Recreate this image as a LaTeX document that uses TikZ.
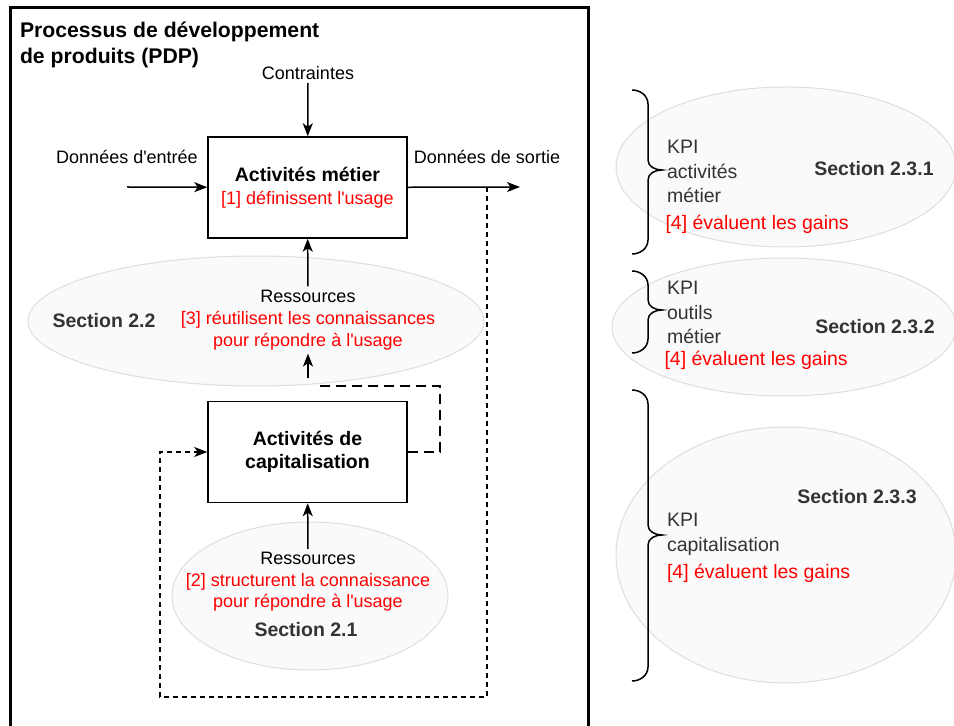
\documentclass[tikz,border=0pt]{standalone}
\usepackage{fontspec}
\setmainfont{Liberation Sans}
\usepackage{tikz}
\usetikzlibrary{arrows.meta,shapes.geometric}

\begin{document}
\begin{tikzpicture}[x=1pt,y=1pt,font=\fontsize{18}{22}\selectfont]

	\tikzstyle{mybox}=[draw,line width=1.5pt,minimum width=199pt,minimum height=101pt,align=center,font=\fontsize{19.5}{23}\selectfont\bfseries]
	\tikzstyle{myell}=[ellipse,draw=black!13,fill=black!2,line width=1pt,inner sep=0pt]
	\tikzstyle{myarrow}=[line width=1.5pt,-{Stealth[length=13pt,width=10pt,inset=3.5pt]}]
	\tikzstyle{fbdash}=[line width=1.5pt,dash pattern=on 5pt off 4pt,-{Stealth[length=13pt,width=10pt,inset=3.5pt]}]
	\tikzstyle{loopdash}=[line width=1.5pt,dash pattern=on 10pt off 6pt]
	\tikzstyle{mysec}=[text=black!80,font=\fontsize{19.5}{23}\selectfont\bfseries]
	\tikzstyle{mykpi}=[text=black!80,align=left,anchor=west,font=\fontsize{19.5}{24.5}\selectfont]
	\tikzstyle{myred}=[red,anchor=west,font=\fontsize{19.5}{24}\selectfont]

	\useasboundingbox (0,0) rectangle (954,726);

	% ellipses
	\node[myell,minimum width=456pt,minimum height=130pt] (e22) at (256,405) {};
	\node[myell,minimum width=276pt,minimum height=148pt] (e21) at (310,130) {};
	\node[myell,minimum width=340pt,minimum height=160pt] (e231) at (786,559) {};
	\node[myell,minimum width=344pt,minimum height=138pt] (e232) at (784,399) {};
	\node[myell,minimum width=340pt,minimum height=256pt] (e233) at (786,171) {};

	% PDP frame
	\draw[line width=3pt] (10,-10) -- (10,718) -- (588,718) -- (588,-10);
	\node[anchor=west,align=left,font=\fontsize{21.2}{26}\selectfont\bfseries] (titre) at (16.5,681) {Processus de développement\\de produits (PDP)};

	% activities
	\node[mybox] (metier) at (307.5,538.5) {Activités métier\\{\color{red}\mdseries\fontsize{18}{23}\selectfont [1] définissent l\textquotesingle usage}};
	\node[mybox] (capi) at (307.5,274) {Activités de\\capitalisation};

	\node (contr) at (308,653) {Contraintes};
	\node (din) at (127,569) {Données d\textquotesingle entrée};
	\node (dout) at (487,569) {Données de sortie};
	\coordinate (inpt) at (127,539);
	\coordinate (outpt) at (520,539);

	\node[align=center] (res22) at (308,406) {Ressources\\\textcolor{red}{[3] réutilisent les connaissances}\\\textcolor{red}{pour répondre à l\textquotesingle usage}};
	\node[align=center,font=\fontsize{18}{21.5}\selectfont] (res21) at (308,144) {Ressources\\\textcolor{red}{[2] structurent la connaissance}\\\textcolor{red}{pour répondre à l\textquotesingle usage}};

	\node[mysec] (s22) at (104,405) {Section 2.2};
	\node[mysec] (s21) at (306,96) {Section 2.1};

	\draw[myarrow] (contr) -- (metier);
	\draw[myarrow] (inpt) -- (metier);
	\draw[myarrow] (metier) -- (outpt);
	\draw[myarrow] (res22) -- (metier);
	\draw[myarrow] (res21) -- (capi);

	% feedback loops
	\coordinate (fb) at (487,539);
	\coordinate (fbc) at (160,29);
	\draw[fbdash] (fb) |- (fbc) |- (capi);
	\coordinate (lp) at (440,340);
	\coordinate (lpend) at (315,340);
	\coordinate (lpup) at (308,348);
	\draw[loopdash] (capi.east) -| (lp) -- (lpend);
	\draw[myarrow] (lpup) -- (res22.south);

	% KPI
	\node[mykpi] (k1) at (663.5,554.5) {KPI\\activités\\métier};
	\node[myred] (r1) at (662,502) {[4] évaluent les gains};
	\node[mysec] (s231) at (874,557) {Section 2.3.1};

	\node[mykpi] (k2) at (663.5,413.5) {KPI\\outils\\métier};
	\node[myred] (r2) at (661,366) {[4] évaluent les gains};
	\node[mysec] (s232) at (875,399) {Section 2.3.2};

	\node[mykpi,font=\fontsize{19.5}{25}\selectfont] (k3) at (663.5,191.5) {KPI\\capitalisation};
	\node[myred] (r3) at (663.5,153) {[4] évaluent les gains};
	\node[mysec] (s233) at (857,229) {Section 2.3.3};

	\foreach \t/\m/\b in {636/556/472, 455/416/373, 336/191/45} {
		\draw[line width=1.5pt] (632,\t) to[out=0,in=90] (648,\t-14) -- (648,\m+10) to[out=-90,in=180] (662,\m) to[out=180,in=90] (648,\m-10) -- (648,\b+14) to[out=-90,in=0] (632,\b);
	}
\end{tikzpicture}
\end{document}
